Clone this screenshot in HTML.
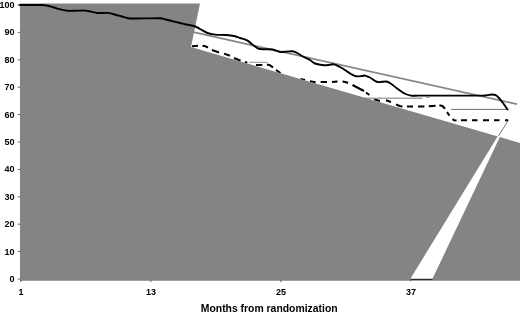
<!DOCTYPE html>
<html>
<head>
<meta charset="utf-8">
<title>Months from randomization</title>
<style>
html,body{margin:0;padding:0;background:#fff;}
body{width:520px;height:314px;overflow:hidden;}
svg{display:block;}
text{font-family:"Liberation Sans",Arial,Helvetica,sans-serif;font-weight:bold;fill:#000;}
</style>
</head>
<body>
<svg width="520" height="314" viewBox="0 0 520 314">
<rect x="0" y="0" width="520" height="314" fill="#ffffff"/>

<!-- axis line (mostly hidden by the grey area) -->
<line x1="20" y1="279.5" x2="520" y2="279.5" stroke="#222" stroke-width="1"/>

<!-- dashed curve -->
<path id="dash" fill="none" stroke="#000" stroke-width="2" stroke-linejoin="round" d="M192,46.2 L198,45.8 M202.5,45.8 L205.5,46.3 L208,47.5 M212,50 L219,52.5 M224,53.6 L230,55.7 M234,58 L240.6,60.7 M245,62.0 L247.3,62.6 M256,65 L262.3,65 M267,64.5 L270,65.3 L273,67.3 M276,70 L280.5,73 M300.6,79.1 L305,80 M310,81.3 L315.6,82.3 M320.6,82.1 L327,82.1 M332,82.1 L337.5,81.5 M342.5,81.6 L345.5,82 L348,83 M352.5,85 L364,91 M366,92.5 L369.4,95 M374,99.4 L380,101 M386,100.2 L391,102 M396,104.4 L399.5,106 L402.5,106.4 M407,106.5 L413,106.5 M418,106.5 L424.4,106.5 M428.75,106.3 L435.6,105.7 M439.4,105.3 L442.5,106 L445,108.75 M447,112 L449.4,115.6 M452.5,119.2 L454.3,120.3 L456.5,120.6 M461,120.3 L467,120.3 M472,120.3 L477.5,120.3 M483,120.3 L489,120.3 M494,120.3 L499.5,120.3 M505,120.3 L508.3,120.3"/>

<!-- grey area -->
<path fill="#848484" d="M20,3.5 L200,3.5 L191,47 L520,143 L520,280.8 L20,280.8 Z"/>
<!-- white wedge -->
<path fill="#ffffff" d="M410.4,278.7 L432.5,278.7 L500,136.8 L497.9,136 Z"/>
<line x1="410.6" y1="279.4" x2="432.5" y2="279.4" stroke="#222" stroke-width="1"/>
<line x1="498.4" y1="136" x2="508" y2="120.8" stroke="#666" stroke-width="0.9"/>

<!-- thin grey helper lines -->
<line x1="193.5" y1="32.1" x2="517" y2="104.2" stroke="#868686" stroke-width="1.7"/>
<line x1="249" y1="62.3" x2="267.5" y2="62.3" stroke="#888" stroke-width="0.9"/>
<line x1="364" y1="98.2" x2="422.5" y2="98.2" stroke="#777" stroke-width="1"/>
<line x1="426" y1="97.4" x2="429.5" y2="97.4" stroke="#888" stroke-width="0.9"/>
<line x1="451" y1="109.4" x2="507.5" y2="109.4" stroke="#707070" stroke-width="1"/>

<!-- solid curve -->
<path id="solid" fill="none" stroke="#000" stroke-width="1.9" stroke-linejoin="round" stroke-linecap="round"
 d="M19.50,5.00 C21.25,5.00 26.25,5.00 30.00,5.00 C33.75,5.00 39.00,4.87 42.00,5.00 C45.00,5.13 46.00,5.38 48.00,5.80 C50.00,6.22 52.00,6.93 54.00,7.50 C56.00,8.07 57.75,8.65 60.00,9.20 C62.25,9.75 64.83,10.55 67.50,10.80 C70.17,11.05 73.08,10.73 76.00,10.70 C78.92,10.67 82.50,10.45 85.00,10.60 C87.50,10.75 88.92,11.20 91.00,11.60 C93.08,12.00 94.75,12.78 97.50,13.00 C100.25,13.22 104.92,12.73 107.50,12.90 C110.08,13.07 111.08,13.53 113.00,14.00 C114.92,14.47 117.00,15.15 119.00,15.70 C121.00,16.25 123.23,16.84 125.00,17.30 C126.77,17.76 128.10,18.25 129.60,18.45 C131.10,18.65 131.43,18.51 134.00,18.50 C136.57,18.49 140.67,18.43 145.00,18.40 C149.33,18.37 156.50,18.12 160.00,18.30 C163.50,18.48 163.83,19.00 166.00,19.50 C168.17,20.00 170.67,20.72 173.00,21.30 C175.33,21.88 178.00,22.52 180.00,23.00 C182.00,23.48 182.67,23.70 185.00,24.20 C187.33,24.70 191.50,25.20 194.00,26.00 C196.50,26.80 197.75,27.83 200.00,29.00 C202.25,30.17 205.00,32.07 207.50,33.00 C210.00,33.93 211.92,34.27 215.00,34.60 C218.08,34.93 222.67,34.73 226.00,35.00 C229.33,35.27 232.67,35.70 235.00,36.20 C237.33,36.70 237.92,37.27 240.00,38.00 C242.08,38.73 245.33,39.43 247.50,40.60 C249.67,41.77 251.12,43.64 253.00,45.00 C254.88,46.36 256.75,48.05 258.75,48.75 C260.75,49.45 262.71,49.08 265.00,49.20 C267.29,49.33 270.00,49.03 272.50,49.50 C275.00,49.97 278.08,51.62 280.00,52.00 C281.92,52.38 281.92,51.92 284.00,51.80 C286.08,51.67 290.33,51.05 292.50,51.25 C294.67,51.45 295.33,52.17 297.00,53.00 C298.67,53.83 300.33,55.08 302.50,56.25 C304.67,57.42 307.92,58.79 310.00,60.00 C312.08,61.21 312.67,62.63 315.00,63.50 C317.33,64.37 321.50,64.98 324.00,65.20 C326.50,65.42 328.33,64.93 330.00,64.80 C331.67,64.67 332.33,64.03 334.00,64.40 C335.67,64.77 338.17,66.07 340.00,67.00 C341.83,67.93 343.17,68.83 345.00,70.00 C346.83,71.17 349.17,72.96 351.00,74.00 C352.83,75.04 354.17,75.92 356.00,76.25 C357.83,76.58 360.50,76.11 362.00,76.00 C363.50,75.89 363.67,75.35 365.00,75.60 C366.33,75.85 367.92,76.43 370.00,77.50 C372.08,78.57 374.83,81.33 377.50,82.00 C380.17,82.67 383.75,81.21 386.00,81.50 C388.25,81.79 389.08,82.54 391.00,83.75 C392.92,84.96 395.17,87.08 397.50,88.75 C399.83,90.42 402.75,92.61 405.00,93.75 C407.25,94.89 409.17,95.27 411.00,95.60 C412.83,95.92 414.50,95.70 416.00,95.70 C417.50,95.70 417.67,95.62 420.00,95.60 C422.33,95.58 424.17,95.60 430.00,95.60 C435.83,95.60 448.33,95.60 455.00,95.60 C461.67,95.60 465.83,95.60 470.00,95.60 C474.17,95.60 477.50,95.62 480.00,95.60 C482.50,95.58 483.50,95.62 485.00,95.50 C486.50,95.38 487.75,95.07 489.00,94.90 C490.25,94.73 491.42,94.45 492.50,94.50 C493.58,94.55 494.50,94.70 495.50,95.20 C496.50,95.70 497.25,96.20 498.50,97.50 C499.75,98.80 501.50,101.02 503.00,103.00 C504.50,104.98 506.75,108.33 507.50,109.40"/>

<!-- ticks -->
<g stroke="#555" stroke-width="0.9">
<line x1="17.8" y1="5.0" x2="20" y2="5.0"/>
<line x1="17.8" y1="32.4" x2="20" y2="32.4"/>
<line x1="17.8" y1="59.8" x2="20" y2="59.8"/>
<line x1="17.8" y1="87.2" x2="20" y2="87.2"/>
<line x1="17.8" y1="114.6" x2="20" y2="114.6"/>
<line x1="17.8" y1="142.0" x2="20" y2="142.0"/>
<line x1="17.8" y1="169.4" x2="20" y2="169.4"/>
<line x1="17.8" y1="196.8" x2="20" y2="196.8"/>
<line x1="17.8" y1="224.2" x2="20" y2="224.2"/>
<line x1="17.8" y1="251.6" x2="20" y2="251.6"/>
<line x1="17.8" y1="279.0" x2="20" y2="279.0"/>
<line x1="20.8" y1="280" x2="20.8" y2="282"/>
<line x1="150.8" y1="280" x2="150.8" y2="282"/>
<line x1="280.8" y1="280" x2="280.8" y2="282"/>
<line x1="410.6" y1="279" x2="410.6" y2="281.3"/>
</g>

<!-- y labels -->
<g font-size="9" text-anchor="end">
<text x="14.6" y="8.0">100</text>
<text x="14.6" y="35.4">90</text>
<text x="14.6" y="62.8">80</text>
<text x="14.6" y="90.2">70</text>
<text x="14.6" y="117.6">60</text>
<text x="14.6" y="145.0">50</text>
<text x="14.6" y="172.4">40</text>
<text x="14.6" y="199.8">30</text>
<text x="14.6" y="227.2">20</text>
<text x="14.6" y="254.6">10</text>
<text x="14.6" y="282.0">0</text>
</g>
<!-- x labels -->
<g font-size="9" text-anchor="middle">
<text x="21" y="294.6">1</text>
<text x="151" y="294.6">13</text>
<text x="281" y="294.6">25</text>
<text x="411" y="294.6">37</text>
</g>
<text x="269.2" y="311.8" font-size="10.4" text-anchor="middle">Months from randomization</text>
</svg>
</body>
</html>
